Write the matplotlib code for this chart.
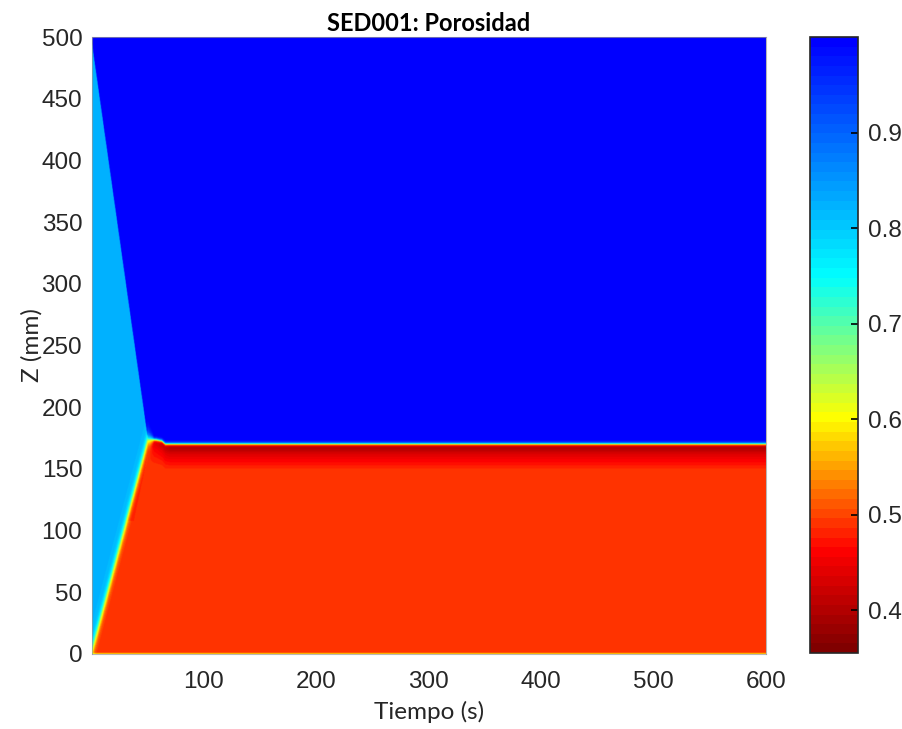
import numpy as np
import matplotlib.pyplot as plt
from matplotlib.colors import LinearSegmentedColormap

# frente superior (suspension / agua clara)
T_TOP = [0, 50.5]
Z_TOP = [500, 174]
# frente del lecho de sedimento
T_BED = [0, 50.5, 58, 63, 66, 600]
Z_BED = [0, 174, 173.5, 172.5, 170, 170]
# porosidades
PHI_CLEAR = 1.0
PHI_SUSP = 0.82
PHI_BED = 0.49
PHI_BOTTOM = 0.56
# capa compactada bajo la interfase
LAYER_DEPTH = [0, 3, 8, 15, 21]
LAYER_PHI = [0.38, 0.395, 0.435, 0.468, 0.49]
LAYER_T = [50, 56, 70, 600]
LAYER_STRENGTH = [0, 0.5, 1, 1]
# cuña junto al frente inclinado
WEDGE_T = [38, 53]
WEDGE_Z = [108, 172]
PHI_WEDGE = 0.475
# ancho de la transicion del frente
W_T = [0, 50, 56, 600]
W_MM = [4.0, 4.0, 0.8, 0.8]

# mapa de color
CMAP_VALS = [0.355, 0.46, 0.60, 0.75, 1.0]
CMAP_COLS = ['#800000', '#ff0000', '#ffff00', '#00ffff', '#0000ff']
CBAR_TICKS = [0.4, 0.5, 0.6, 0.7, 0.8, 0.9]


def sig(x):
    return 1.0 / (1.0 + np.exp(-np.clip(x, -50, 50)))


def build_field():
    t = np.linspace(1, 600, 1200)
    z = np.linspace(0, 500, 1001)
    T, Z = np.meshgrid(t, z)
    z_bed = np.interp(t, T_BED, Z_BED)
    z_top = np.interp(t, T_TOP, Z_TOP, right=0.0)
    z_top = np.maximum(z_top, z_bed)
    w = np.interp(t, W_T, W_MM)

    phi_above = PHI_CLEAR + (PHI_SUSP - PHI_CLEAR) * sig((z_top - Z) / 0.5)

    depth = z_bed - Z
    strength = np.interp(T, LAYER_T, LAYER_STRENGTH)
    profile = np.interp(depth, LAYER_DEPTH, LAYER_PHI)
    phi_bed = PHI_BED + strength * (profile - PHI_BED)

    # cuña: entre el frente y la recta WEDGE
    slope = (WEDGE_Z[1] - WEDGE_Z[0]) / (WEDGE_T[1] - WEDGE_T[0])
    z_edge = WEDGE_Z[0] + slope * (T - WEDGE_T[0])
    wedge = (Z >= WEDGE_Z[0]) & (Z <= WEDGE_Z[1]) & (Z > z_edge) & (depth > 0)
    phi_bed = np.where(wedge, PHI_WEDGE, phi_bed)
    phi_bed = np.where(Z < 1.0, PHI_BOTTOM, phi_bed)

    s = sig((z_bed - Z) / w)
    return phi_bed * s + phi_above * (1 - s)


def main():
    pos = [(v - CMAP_VALS[0]) / (CMAP_VALS[-1] - CMAP_VALS[0]) for v in CMAP_VALS]
    cmap = LinearSegmentedColormap.from_list('por', list(zip(pos, CMAP_COLS)), N=64)

    phi = build_field()

    fig = plt.figure(figsize=(9.03, 7.29), dpi=100)
    ax = fig.add_axes([92 / 903, 1 - 654 / 729, 674 / 903, 617 / 729])
    im = ax.imshow(phi, origin='lower', extent=[1, 600, 0, 500], aspect='auto',
                   cmap=cmap, vmin=CMAP_VALS[0], vmax=CMAP_VALS[-1], interpolation='bilinear')
    ax.set_xlim(1, 600)
    ax.set_ylim(0, 500)
    ax.set_xticks([100, 200, 300, 400, 500, 600])
    ax.set_yticks(range(0, 501, 50))
    ax.tick_params(length=0, labelsize=17.5, labelcolor='#262626')
    ax.tick_params(axis='x', pad=12)
    ax.tick_params(axis='y', pad=7)
    for lab in ax.get_xticklabels() + ax.get_yticklabels():
        lab.set_family('Liberation Sans')
    for sp in ax.spines.values():
        sp.set_color('#999999')
        sp.set_linewidth(0.8)
        sp.set_alpha(0.7)

    ax.set_title('SED001: Porosidad', fontsize=17, fontweight='bold', family='Lato', pad=4)
    ax.set_xlabel('Tiempo (s)', fontsize=17.5, family='Lato', color='#262626', labelpad=6)
    ax.set_ylabel('Z (mm)', fontsize=17.5, family='Lato', color='#262626', labelpad=-1)

    cax = fig.add_axes([810 / 903, 1 - 653 / 729, 48 / 903, 616 / 729])
    cb = fig.colorbar(im, cax=cax, ticks=CBAR_TICKS)
    cb.outline.set_linewidth(1.2)
    cb.outline.set_edgecolor('#262626')
    cax.tick_params(direction='in', length=5, width=1.2, labelsize=17.5, pad=7,
                    labelcolor='#262626')
    for lab in cax.get_yticklabels():
        lab.set_family('Liberation Sans')

    fig.savefig('out.png', dpi=100)


if __name__ == '__main__':
    main()
